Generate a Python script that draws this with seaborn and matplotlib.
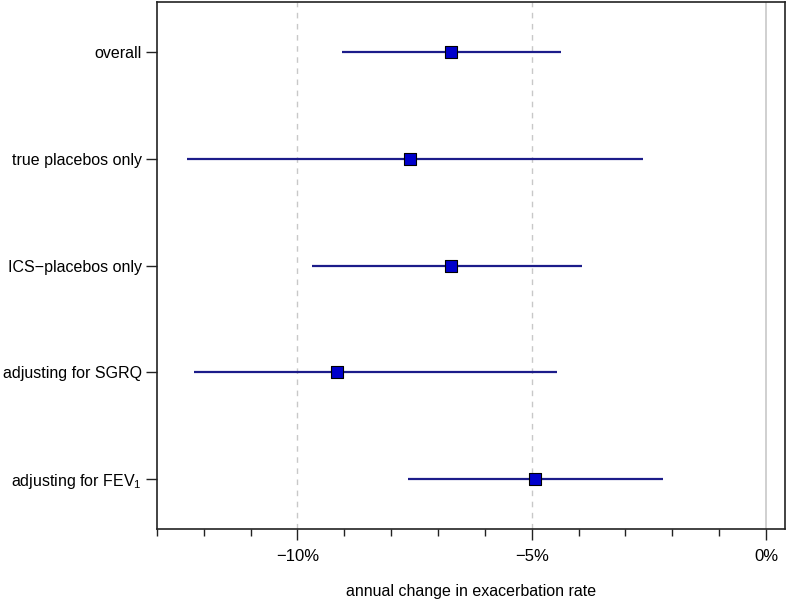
import matplotlib
matplotlib.use('Agg')
import matplotlib.pyplot as plt
from matplotlib.ticker import MultipleLocator, FuncFormatter
import seaborn as sns
import pandas as pd

# 데이터 (그림에서 읽은 값, %)
labels = ['overall', 'true placebos only', 'ICS\u2212placebos only',
          'adjusting for SGRQ', 'adjusting for FEV$_1$']
est = [-6.73, -7.59, -6.73, -9.15, -4.94]
lo = [-9.04, -12.35, -9.68, -12.20, -7.63]
hi = [-4.38, -2.63, -3.93, -4.47, -2.20]

df = pd.DataFrame({'label': labels, 'est': est, 'lo': lo, 'hi': hi})
df['pos'] = range(len(df))

sns.set_style('ticks')
plt.rcParams['font.family'] = ['Liberation Sans', 'DejaVu Sans']
plt.rcParams['mathtext.fontset'] = 'custom'
plt.rcParams['mathtext.rm'] = 'Liberation Sans'
plt.rcParams['mathtext.it'] = 'Liberation Sans'
plt.rcParams['text.color'] = 'black'
plt.rcParams['axes.labelcolor'] = 'black'
plt.rcParams['xtick.color'] = '#222222'
plt.rcParams['ytick.color'] = '#222222'
plt.rcParams['xtick.labelcolor'] = 'black'
plt.rcParams['ytick.labelcolor'] = 'black'

fig = plt.figure(figsize=(7.88, 5.99), dpi=100)
ax = fig.add_axes([0.199, 0.1165, 0.797, 0.88])

# 기준선
for v in [-10, -5]:
    ax.axvline(v, color='#c8c8c8', lw=1, ls=(0, (4, 4)), zorder=0)
ax.axvline(0, color='#c8c8c8', lw=1.2, zorder=0)

ax.hlines(df['pos'], df['lo'], df['hi'], color='#1c1c8a', lw=1.6, zorder=2)
sns.scatterplot(data=df, x='est', y='pos', marker='s', s=72,
                color='#0000cc', edgecolor='black', linewidth=0.8,
                zorder=3, ax=ax, legend=False)

ax.set_xlim(-13.0, 0.4)
ax.set_ylim(len(df) - 0.53, -0.47)
ax.set_yticks(df['pos'])
ax.set_yticklabels(df['label'], fontsize=11.5)

ax.xaxis.set_major_locator(MultipleLocator(5))
ax.xaxis.set_minor_locator(MultipleLocator(1))
ax.xaxis.set_major_formatter(FuncFormatter(lambda v, p: f'{v:.0f}%'.replace('-', '\u2212')))
ax.tick_params(axis='x', which='major', length=8, width=1, labelsize=12, pad=6)
ax.tick_params(axis='x', which='minor', length=5, width=1)
ax.tick_params(axis='y', length=8, width=1, pad=3)

ax.set_xlabel('annual change in exacerbation rate', fontsize=11.5, labelpad=15)
ax.set_ylabel('')

for s in ax.spines.values():
    s.set_color('#222222')
    s.set_linewidth(1.2)

fig.savefig('out.png', dpi=100)
